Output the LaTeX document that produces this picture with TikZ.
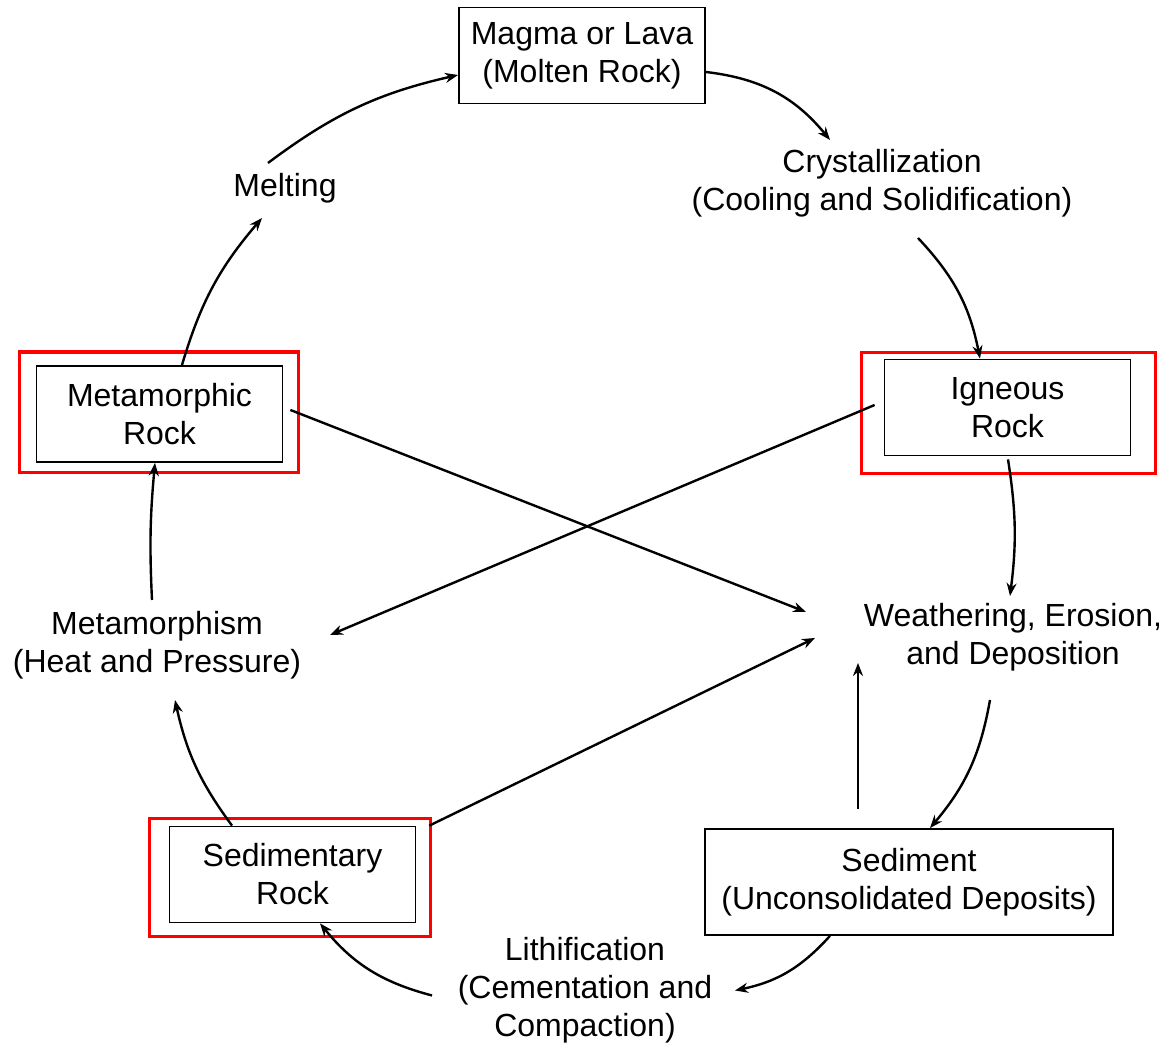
\documentclass[tikz,border=0pt]{standalone}
\usepackage{fontspec}
\setmainfont{Liberation Sans}
\usetikzlibrary{arrows.meta}

\begin{document}
\begin{tikzpicture}[x=0.5pt, y=0.5pt,
    font=\fontsize{16}{19}\selectfont,
    rock/.style={draw, rectangle, line width=0.9pt, minimum width=123pt, minimum height=48pt, align=center, inner sep=2pt},
    stage/.style={align=center, inner sep=2pt},
    flow/.style={-{Stealth[length=6.5pt, width=5pt]}, line width=1.2pt},
    redframe/.style={draw=red, line width=1.6pt}]
    \useasboundingbox (0,0) rectangle (1168,1048);

    % Nodes
    \node [rock] (magma) at (582,992.5) {Magma or Lava\\(Molten Rock)};
    \node [rock] (ign) at (1007.5,640.5) {Igneous\\Rock};
    \node [rock] (meta) at (159.5,634) {Metamorphic\\Rock};
    \node [rock] (sedr) at (292.5,173.5) {Sedimentary\\Rock};
    \node [rock, minimum width=204pt, minimum height=53pt] (sed) at (909,166) {Sediment\\(Unconsolidated Deposits)};
    \node [stage] (crys) at (882,865) {Crystallization\\(Cooling and Solidification)};
    \node [stage] (melt) at (285,860) {Melting};
    \node [stage] (metam) at (157,403) {Metamorphism\\(Heat and Pressure)};
    \node [stage] (weath) at (1013,411) {Weathering, Erosion,\\and Deposition};
    \node [stage] (lith) at (585,57.5) {Lithification\\(Cementation and\\Compaction)};

    % Red frames
    \draw [redframe] ([shift={(-22,-17)}]ign.south west) rectangle ([shift={(24,6)}]ign.north east);
    \draw [redframe] ([shift={(-16,-10)}]meta.south west) rectangle ([shift={(15,13)}]meta.north east);
    \draw [redframe] ([shift={(-19,-13)}]sedr.south west) rectangle ([shift={(14,7)}]sedr.north east);

    % Arrows
    \draw [flow] ([shift={(22.5,49)}]meta.center) to[bend left=12] ([shift={(-23,-30)}]melt.center);
    \draw [flow] ([shift={(-17,25)}]melt.center) to[bend left=12] ([shift={(0,-19.5)}]magma.west);
    \draw [flow] ([shift={(0,-16.5)}]magma.east) to[bend left=22] ([shift={(-52,43)}]crys.center);
    \draw [flow] ([shift={(36,-55)}]crys.center) to[bend left=16] ([shift={(-27.5,0)}]ign.north);
    \draw [flow] ([shift={(0.5,-3)}]ign.south) to[bend left=8] ([shift={(-3,41)}]weath.center);
    \draw [flow] ([shift={(-23,-63)}]weath.center) to[bend left=15] ([shift={(21,0)}]sed.north);
    \draw [flow] ([shift={(-51,19)}]sed.north) -- ([shift={(-155,-26)}]weath.center);
    \draw [flow] ([shift={(-79,0)}]sed.south) to[bend left=18] ([shift={(150,0)}]lith.center);
    \draw [flow] ([shift={(-153,-5)}]lith.center) to[bend left=18] ([shift={(27.5,0)}]sedr.south);
    \draw [flow] ([shift={(-60.5,0)}]sedr.north) to[bend left=12] ([shift={(18,-55)}]metam.center);
    \draw [flow] ([shift={(-5,45)}]metam.center) to[bend left=4] ([shift={(-4.5,0)}]meta.south);
    \draw [flow] ([shift={(7,4)}]meta.east) -- ([shift={(-207,25)}]weath.center);
    \draw [flow] ([shift={(-9,2.5)}]ign.west) -- ([shift={(173,10)}]metam.center);
    \draw [flow] ([shift={(13,0)}]sedr.north east) -- ([shift={(-198,-1)}]weath.center);
\end{tikzpicture}
\end{document}
